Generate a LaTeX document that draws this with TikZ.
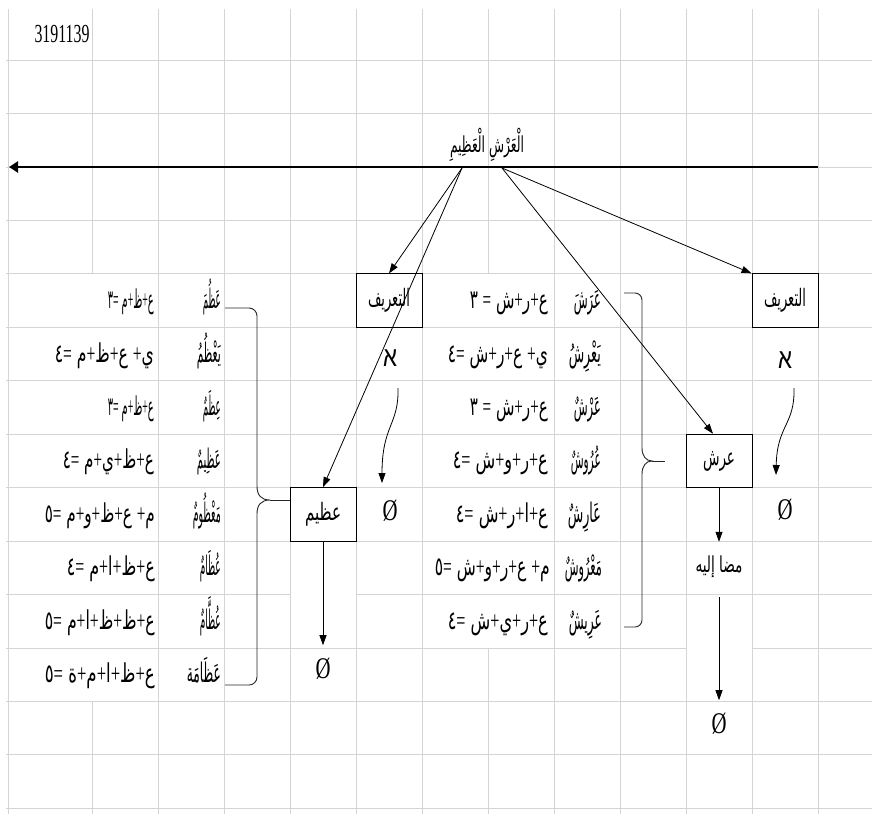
\documentclass[tikz,border=0pt]{standalone}
\usepackage{fontspec}
\usepackage{graphicx}
\setmainfont{Liberation Serif}
\newfontfamily\arabicfont[Script=Arabic]{DejaVu Sans}
\newfontfamily\hebfont[Script=Hebrew]{Liberation Sans}
\TeXXeTstate=1
\usetikzlibrary{arrows.meta}
\definecolor{gridc}{RGB}{212,212,212}

% Arabic text squeezed to a given width (pt) at a given size
\newcommand{\sq}[3]{\resizebox{#1pt}{\height}{\fontsize{#2}{#2}\arabicfont #3}}
% one isolated letter or digit of a letter count
\newcommand{\lt}[1]{\hbox{#1}}
% plus and equals signs of a letter count, in the serif face
\newcommand{\pl}{\hbox{\rmfamily +}}
\newcommand{\eqs}{\hbox{\rmfamily =}}
\newcommand{\emptymark}{\resizebox{15pt}{\height}{\fontsize{30}{30}\selectfont Ø}}
\newcommand{\alephmark}{\resizebox{14pt}{\height}{\fontsize{28}{28}\hebfont א}}

\begin{document}
\begin{tikzpicture}[x=1pt,y=-1pt,
  gridline/.style={draw=gridc, line width=0.8pt},
  box/.style={draw=black, fill=white, line width=0.9pt, minimum width=66pt,
              minimum height=53.45pt, inner sep=0pt},
  txt/.style={inner sep=0pt},
  word/.style={inner sep=0pt, anchor=base east},
  link/.style={draw=black, line width=0.8pt, -{Triangle[length=10pt,width=7pt]}},
  mainarrow/.style={draw=black, line width=2.6pt, -{Triangle[length=9pt,width=11pt]}},
  brace/.style={draw=black!85, line width=0.9pt}]

\fill[white] (0,0) rectangle (872,814);
\useasboundingbox (0,0) rectangle (872,814);

% sheet grid
\foreach \k in {0,...,9,12,13,14}
  \draw[gridline] (6,{60+53.45*\k}) -- (872,{60+53.45*\k});
\draw[gridline] (6,594.5) -- (290,594.5) (356,594.5) -- (872,594.5);
\draw[gridline] (6,648) -- (686,648) (752,648) -- (872,648);
\foreach \x in {8,158,224,290,356,422,554,620,686,752,818}
  \draw[gridline] (\x,9) -- (\x,814);
\draw[gridline] (92,9) -- (92,273.8) (92,701.4) -- (92,814);
\draw[gridline] (488,9) -- (488,273.8) (488,648) -- (488,814);

% header
\node[txt] (code) at (62,34) {\resizebox{55pt}{\height}{\fontsize{26}{26}\selectfont 3191139}};
\node[txt] (title) at (487,145) {\sq{74}{22}{\beginR\lt{الْعَرْشِ} \lt{الْعَظِيمِ}\endR}};
\coordinate (axisR) at (818,167);
\coordinate (axisL) at (9,167);
\draw[mainarrow] (axisR) -- (axisL);
\coordinate (srcL) at (462,168);
\coordinate (srcR) at (502,168);

% boxes
\node[box] (tarifL) at (389,300.55) {\sq{42}{24}{\beginR التعريف\endR}};
\node[box] (tarifR) at (785,300.55) {\sq{42}{24}{\beginR التعريف\endR}};
\node[box] (arsh) at (719,460.9) {\sq{32}{24}{\beginR عرش\endR}};
\node[box] (azim) at (323,514.3) {\sq{36}{24}{\beginR عظيم\endR}};

% aleph and empty-set marks
\node[txt] (alephL) at (390,358) {\alephmark};
\node[txt] (alephR) at (785,360) {\alephmark};
\node[txt] (emptyL) at (390,511) {\emptymark};
\node[txt] (emptyR) at (785,510) {\emptymark};
\node[txt] (emptyA) at (323,669) {\emptymark};
\node[txt] (mudaf) at (719,567) {\sq{47}{22}{\beginR\lt{مضا} \lt{إليه}\endR}};
\node[txt] (emptyD) at (719,724) {\emptymark};

% left table: derivatives of ع ظ م
\node[word] (lw1) at (221,308.5) {\sq{18}{27}{\beginR عَظُمَ\endR}};
\node[word] (lw2) at (221,362) {\sq{24}{27}{\beginR يَعْظُمُ\endR}};
\node[word] (lw3) at (221,415.4) {\sq{18}{27}{\beginR عِظَمٌ\endR}};
\node[word] (lw4) at (221,468.9) {\sq{24}{27}{\beginR عَظِيمٌ\endR}};
\node[word] (lw5) at (221,522.3) {\sq{28}{27}{\beginR مَعْظُومٌ\endR}};
\node[word] (lw6) at (221,575.7) {\sq{21}{27}{\beginR عُظَامٌ\endR}};
\node[word] (lw7) at (221,629.2) {\sq{21}{27}{\beginR عُظَّامٌ\endR}};
\node[word] (lw8) at (221,682.7) {\sq{34}{27}{\beginR عَظَامَة\endR}};

\node[word] (lf1) at (154,308.5) {\sq{46}{26}{\beginR\lt{ع}\pl\lt{ظ}\pl\lt{م} \eqs\lt{٣}\endR}};
\node[word] (lf2) at (154,362) {\sq{99}{26}{\beginR\lt{ي}\pl{} \lt{ع}\pl\lt{ظ}\pl\lt{م} \eqs\lt{٤}\endR}};
\node[word] (lf3) at (154,415.4) {\sq{46}{26}{\beginR\lt{ع}\pl\lt{ظ}\pl\lt{م} \eqs\lt{٣}\endR}};
\node[word] (lf4) at (154,468.9) {\sq{91}{26}{\beginR\lt{ع}\pl\lt{ظ}\pl\lt{ي}\pl\lt{م} \eqs\lt{٤}\endR}};
\node[word] (lf5) at (155,522.3) {\sq{110}{26}{\beginR\lt{م}\pl{} \lt{ع}\pl\lt{ظ}\pl\lt{و}\pl\lt{م} \eqs\lt{٥}\endR}};
\node[word] (lf6) at (155,575.7) {\sq{88}{26}{\beginR\lt{ع}\pl\lt{ظ}\pl\lt{ا}\pl\lt{م} \eqs\lt{٤}\endR}};
\node[word] (lf7) at (155,629.2) {\sq{110}{26}{\beginR\lt{ع}\pl\lt{ظ}\pl\lt{ظ}\pl\lt{ا}\pl\lt{م} \eqs\lt{٥}\endR}};
\node[word] (lf8) at (155,682.7) {\sq{110}{26}{\beginR\lt{ع}\pl\lt{ظ}\pl\lt{ا}\pl\lt{م}\pl\lt{ة} \eqs\lt{٥}\endR}};

% right table: derivatives of ع ر ش
\node[word] (rw1) at (601,308.5) {\sq{27}{27}{\beginR عَرَشَ\endR}};
\node[word] (rw2) at (601,362) {\sq{32}{27}{\beginR يَعْرِشُ\endR}};
\node[word] (rw3) at (601,415.4) {\sq{27}{27}{\beginR عَرْشٌ\endR}};
\node[word] (rw4) at (601,468.9) {\sq{30}{27}{\beginR عُرُوشٌ\endR}};
\node[word] (rw5) at (601,522.3) {\sq{33}{27}{\beginR عَارِشٌ\endR}};
\node[word] (rw6) at (602,575.7) {\sq{37}{27}{\beginR مَعْرُوشٌ\endR}};
\node[word] (rw7) at (602,629.2) {\sq{33}{27}{\beginR عَرِيشٌ\endR}};

\node[word] (rf1) at (548,308.5) {\sq{78}{26}{\beginR\lt{ع}\pl\lt{ر}\pl\lt{ش} \eqs{} \lt{٣}\endR}};
\node[word] (rf2) at (548,362) {\sq{100}{26}{\beginR\lt{ي}\pl{} \lt{ع}\pl\lt{ر}\pl\lt{ش} \eqs\lt{٤}\endR}};
\node[word] (rf3) at (548,415.4) {\sq{78}{26}{\beginR\lt{ع}\pl\lt{ر}\pl\lt{ش} \eqs{} \lt{٣}\endR}};
\node[word] (rf4) at (548,468.9) {\sq{95}{26}{\beginR\lt{ع}\pl\lt{ر}\pl\lt{و}\pl\lt{ش} \eqs\lt{٤}\endR}};
\node[word] (rf5) at (548,522.3) {\sq{92}{26}{\beginR\lt{ع}\pl\lt{ا}\pl\lt{ر}\pl\lt{ش} \eqs\lt{٤}\endR}};
\node[word] (rf6) at (550,575.7) {\sq{115}{26}{\beginR\lt{م}\pl{} \lt{ع}\pl\lt{ر}\pl\lt{و}\pl\lt{ش} \eqs\lt{٥}\endR}};
\node[word] (rf7) at (548,629.2) {\sq{100}{26}{\beginR\lt{ع}\pl\lt{ر}\pl\lt{ي}\pl\lt{ش} \eqs\lt{٤}\endR}};

% braces gathering each table
\draw[brace] (225,308) -- (249,308) to[out=0,in=90] (257,316) -- (257,486)
  .. controls (257,495) and (261,500) .. (270,500)
  .. controls (261,500) and (257,505) .. (257,514) -- (257,677)
  to[out=-90,in=0] (249,685) -- (225,685);
\draw[brace] (270,500) -- (azim.west |- 270,500);
\draw[brace] (624,293) -- (635,293) to[out=0,in=90] (642,300) -- (642,448)
  .. controls (642,456) and (646,461) .. (652,461)
  .. controls (646,461) and (642,466) .. (642,474) -- (642,620)
  to[out=-90,in=0] (635,627) -- (624,627);
\draw[brace] (652,461) -- (665,461);

% links from the phrase
\draw[link] (srcL) -- (tarifL.north);
\draw[link] (srcL) -- (azim.north);
\draw[link] (srcR) -- ([xshift=-6pt]arsh.north);
\draw[link] (srcR) -- (tarifR.north west);

% downward links
\draw[link] (azim.south) -- ([yshift=13pt]emptyA.north);
\draw[link] (arsh.south) -- ([yshift=14pt]mudaf.north);
\draw[link] ([yshift=-19pt]mudaf.south) -- ([yshift=13pt]emptyD.north);

% curved links from the aleph marks
\coordinate (cL1) at (398,388);
\coordinate (cL2) at (382,483);
\coordinate (cR1) at (794,388);
\coordinate (cR2) at (776,475);
\draw[link] (cL1) .. controls (399,425) and (382,425) .. (cL2);
\draw[link] (cR1) .. controls (795,425) and (777,425) .. (cR2);
\end{tikzpicture}
\end{document}
